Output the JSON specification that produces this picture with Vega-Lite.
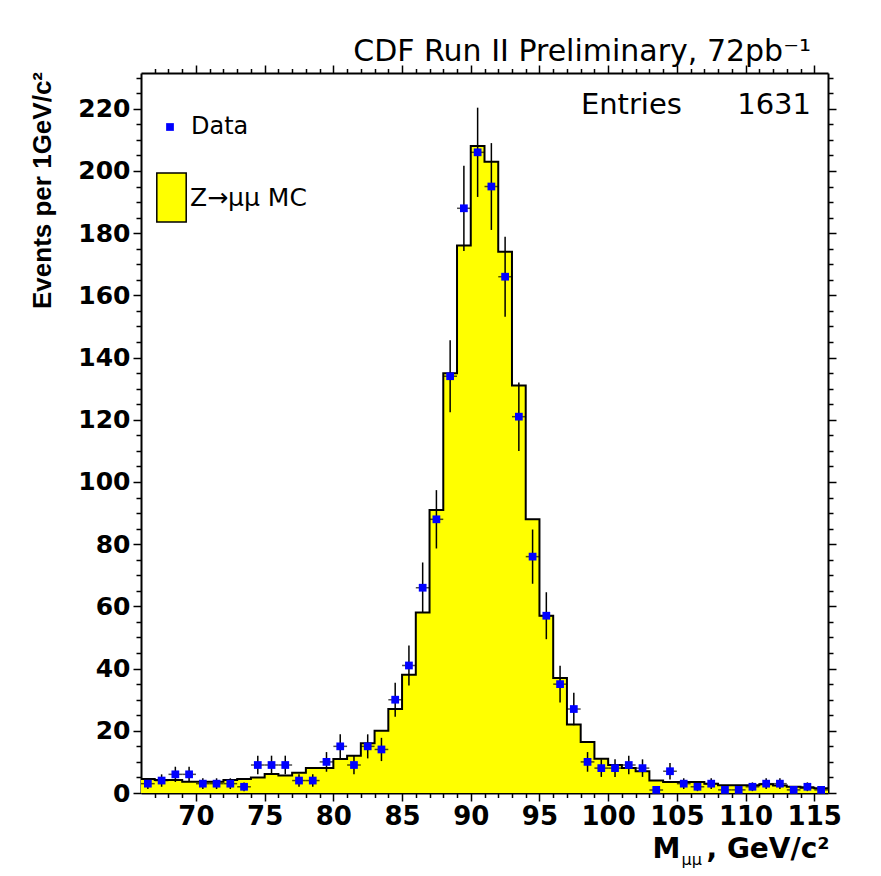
{
  "$schema": "https://vega.github.io/schema/vega-lite/v6.json",
  "width": 687,
  "height": 720,
  "autosize": {"type": "none"},
  "padding": {"left": 141, "top": 73, "right": 53, "bottom": 83},
  "background": "white",
  "config": {
    "view": {"stroke": null},
    "axis": {"grid": false, "tickColor": "black", "domainColor": "black", "labelColor": "black", "titleColor": "black", "zindex": 1}
  },
  "title": {
    "text": "CDF Run II Preliminary, 72pb\u207b\u00b9",
    "subtitle": "Entries\u00a0\u00a0\u00a0\u00a0\u00a0\u00a01631",
    "anchor": "end",
    "frame": "group",
    "font": "DejaVu Sans",
    "fontSize": 30,
    "fontWeight": "normal",
    "color": "black",
    "subtitleFont": "DejaVu Sans",
    "subtitleFontSize": 29,
    "subtitleColor": "black",
    "subtitlePadding": 24,
    "offset": -56,
    "dx": -17
  },
  "datasets": {
    "pts": [
      {"m": 66.5, "n": 3, "lo": 1.27, "hi": 4.73, "series": "Data"},
      {"m": 67.5, "n": 4, "lo": 2, "hi": 6, "series": "Data"},
      {"m": 68.5, "n": 6, "lo": 3.55, "hi": 8.45, "series": "Data"},
      {"m": 69.5, "n": 6, "lo": 3.55, "hi": 8.45, "series": "Data"},
      {"m": 70.5, "n": 3, "lo": 1.27, "hi": 4.73, "series": "Data"},
      {"m": 71.5, "n": 3, "lo": 1.27, "hi": 4.73, "series": "Data"},
      {"m": 72.5, "n": 3, "lo": 1.27, "hi": 4.73, "series": "Data"},
      {"m": 73.5, "n": 2, "lo": 0.59, "hi": 3.41, "series": "Data"},
      {"m": 74.5, "n": 9, "lo": 6, "hi": 12, "series": "Data"},
      {"m": 75.5, "n": 9, "lo": 6, "hi": 12, "series": "Data"},
      {"m": 76.5, "n": 9, "lo": 6, "hi": 12, "series": "Data"},
      {"m": 77.5, "n": 4, "lo": 2, "hi": 6, "series": "Data"},
      {"m": 78.5, "n": 4, "lo": 2, "hi": 6, "series": "Data"},
      {"m": 79.5, "n": 10, "lo": 6.84, "hi": 13.16, "series": "Data"},
      {"m": 80.5, "n": 15, "lo": 11.13, "hi": 18.87, "series": "Data"},
      {"m": 81.5, "n": 9, "lo": 6, "hi": 12, "series": "Data"},
      {"m": 82.5, "n": 15, "lo": 11.13, "hi": 18.87, "series": "Data"},
      {"m": 83.5, "n": 14, "lo": 10.26, "hi": 17.74, "series": "Data"},
      {"m": 84.5, "n": 30, "lo": 24.52, "hi": 35.48, "series": "Data"},
      {"m": 85.5, "n": 41, "lo": 34.6, "hi": 47.4, "series": "Data"},
      {"m": 86.5, "n": 66, "lo": 57.88, "hi": 74.12, "series": "Data"},
      {"m": 87.5, "n": 88, "lo": 78.62, "hi": 97.38, "series": "Data"},
      {"m": 88.5, "n": 134, "lo": 122.42, "hi": 145.58, "series": "Data"},
      {"m": 89.5, "n": 188, "lo": 174.29, "hi": 201.71, "series": "Data"},
      {"m": 90.5, "n": 206, "lo": 191.65, "hi": 220.35, "series": "Data"},
      {"m": 91.5, "n": 195, "lo": 181.04, "hi": 208.96, "series": "Data"},
      {"m": 92.5, "n": 166, "lo": 153.12, "hi": 178.88, "series": "Data"},
      {"m": 93.5, "n": 121, "lo": 110, "hi": 132, "series": "Data"},
      {"m": 94.5, "n": 76, "lo": 67.28, "hi": 84.72, "series": "Data"},
      {"m": 95.5, "n": 57, "lo": 49.45, "hi": 64.55, "series": "Data"},
      {"m": 96.5, "n": 35, "lo": 29.08, "hi": 40.92, "series": "Data"},
      {"m": 97.5, "n": 27, "lo": 21.8, "hi": 32.2, "series": "Data"},
      {"m": 98.5, "n": 10, "lo": 6.84, "hi": 13.16, "series": "Data"},
      {"m": 99.5, "n": 8, "lo": 5.17, "hi": 10.83, "series": "Data"},
      {"m": 100.5, "n": 8, "lo": 5.17, "hi": 10.83, "series": "Data"},
      {"m": 101.5, "n": 9, "lo": 6, "hi": 12, "series": "Data"},
      {"m": 102.5, "n": 8, "lo": 5.17, "hi": 10.83, "series": "Data"},
      {"m": 103.5, "n": 1, "lo": 0, "hi": 2, "series": "Data"},
      {"m": 104.5, "n": 7, "lo": 4.35, "hi": 9.65, "series": "Data"},
      {"m": 105.5, "n": 3, "lo": 1.27, "hi": 4.73, "series": "Data"},
      {"m": 106.5, "n": 2, "lo": 0.59, "hi": 3.41, "series": "Data"},
      {"m": 107.5, "n": 3, "lo": 1.27, "hi": 4.73, "series": "Data"},
      {"m": 108.5, "n": 1, "lo": 0, "hi": 2, "series": "Data"},
      {"m": 109.5, "n": 1, "lo": 0, "hi": 2, "series": "Data"},
      {"m": 110.5, "n": 2, "lo": 0.59, "hi": 3.41, "series": "Data"},
      {"m": 111.5, "n": 3, "lo": 1.27, "hi": 4.73, "series": "Data"},
      {"m": 112.5, "n": 3, "lo": 1.27, "hi": 4.73, "series": "Data"},
      {"m": 113.5, "n": 1, "lo": 0, "hi": 2, "series": "Data"},
      {"m": 114.5, "n": 2, "lo": 0.59, "hi": 3.41, "series": "Data"},
      {"m": 115.5, "n": 1, "lo": 0, "hi": 2, "series": "Data"}
    ],
    "mc": [
      {"edge": 66, "mc": 4.5, "series": "Z\u2192\u03bc\u03bc MC"},
      {"edge": 67, "mc": 4.2, "series": "Z\u2192\u03bc\u03bc MC"},
      {"edge": 68, "mc": 4.2, "series": "Z\u2192\u03bc\u03bc MC"},
      {"edge": 69, "mc": 3.6, "series": "Z\u2192\u03bc\u03bc MC"},
      {"edge": 70, "mc": 3.6, "series": "Z\u2192\u03bc\u03bc MC"},
      {"edge": 71, "mc": 3.6, "series": "Z\u2192\u03bc\u03bc MC"},
      {"edge": 72, "mc": 4.2, "series": "Z\u2192\u03bc\u03bc MC"},
      {"edge": 73, "mc": 4.5, "series": "Z\u2192\u03bc\u03bc MC"},
      {"edge": 74, "mc": 5.0, "series": "Z\u2192\u03bc\u03bc MC"},
      {"edge": 75, "mc": 6.1, "series": "Z\u2192\u03bc\u03bc MC"},
      {"edge": 76, "mc": 5.6, "series": "Z\u2192\u03bc\u03bc MC"},
      {"edge": 77, "mc": 6.5, "series": "Z\u2192\u03bc\u03bc MC"},
      {"edge": 78, "mc": 8, "series": "Z\u2192\u03bc\u03bc MC"},
      {"edge": 79, "mc": 8, "series": "Z\u2192\u03bc\u03bc MC"},
      {"edge": 80, "mc": 10.9, "series": "Z\u2192\u03bc\u03bc MC"},
      {"edge": 81, "mc": 12, "series": "Z\u2192\u03bc\u03bc MC"},
      {"edge": 82, "mc": 16, "series": "Z\u2192\u03bc\u03bc MC"},
      {"edge": 83, "mc": 20, "series": "Z\u2192\u03bc\u03bc MC"},
      {"edge": 84, "mc": 27, "series": "Z\u2192\u03bc\u03bc MC"},
      {"edge": 85, "mc": 38, "series": "Z\u2192\u03bc\u03bc MC"},
      {"edge": 86, "mc": 58, "series": "Z\u2192\u03bc\u03bc MC"},
      {"edge": 87, "mc": 91, "series": "Z\u2192\u03bc\u03bc MC"},
      {"edge": 88, "mc": 135, "series": "Z\u2192\u03bc\u03bc MC"},
      {"edge": 89, "mc": 176, "series": "Z\u2192\u03bc\u03bc MC"},
      {"edge": 90, "mc": 208, "series": "Z\u2192\u03bc\u03bc MC"},
      {"edge": 91, "mc": 203, "series": "Z\u2192\u03bc\u03bc MC"},
      {"edge": 92, "mc": 174, "series": "Z\u2192\u03bc\u03bc MC"},
      {"edge": 93, "mc": 131, "series": "Z\u2192\u03bc\u03bc MC"},
      {"edge": 94, "mc": 88, "series": "Z\u2192\u03bc\u03bc MC"},
      {"edge": 95, "mc": 57, "series": "Z\u2192\u03bc\u03bc MC"},
      {"edge": 96, "mc": 37, "series": "Z\u2192\u03bc\u03bc MC"},
      {"edge": 97, "mc": 22, "series": "Z\u2192\u03bc\u03bc MC"},
      {"edge": 98, "mc": 16.4, "series": "Z\u2192\u03bc\u03bc MC"},
      {"edge": 99, "mc": 11, "series": "Z\u2192\u03bc\u03bc MC"},
      {"edge": 100, "mc": 9, "series": "Z\u2192\u03bc\u03bc MC"},
      {"edge": 101, "mc": 8, "series": "Z\u2192\u03bc\u03bc MC"},
      {"edge": 102, "mc": 7, "series": "Z\u2192\u03bc\u03bc MC"},
      {"edge": 103, "mc": 4, "series": "Z\u2192\u03bc\u03bc MC"},
      {"edge": 104, "mc": 3.5, "series": "Z\u2192\u03bc\u03bc MC"},
      {"edge": 105, "mc": 3.5, "series": "Z\u2192\u03bc\u03bc MC"},
      {"edge": 106, "mc": 3.5, "series": "Z\u2192\u03bc\u03bc MC"},
      {"edge": 107, "mc": 3.0, "series": "Z\u2192\u03bc\u03bc MC"},
      {"edge": 108, "mc": 2.5, "series": "Z\u2192\u03bc\u03bc MC"},
      {"edge": 109, "mc": 2.5, "series": "Z\u2192\u03bc\u03bc MC"},
      {"edge": 110, "mc": 2.5, "series": "Z\u2192\u03bc\u03bc MC"},
      {"edge": 111, "mc": 2.8, "series": "Z\u2192\u03bc\u03bc MC"},
      {"edge": 112, "mc": 2.4, "series": "Z\u2192\u03bc\u03bc MC"},
      {"edge": 113, "mc": 2.0, "series": "Z\u2192\u03bc\u03bc MC"},
      {"edge": 114, "mc": 1.7, "series": "Z\u2192\u03bc\u03bc MC"},
      {"edge": 115, "mc": 1.5, "series": "Z\u2192\u03bc\u03bc MC"},
      {"edge": 116, "mc": 1.5, "series": "Z\u2192\u03bc\u03bc MC"}
    ]
  },
  "resolve": {"axis": {"x": "independent", "y": "independent"}},
  "layer": [
    {
      "data": {"name": "mc"},
      "mark": {"type": "area", "interpolate": "step-after"},
      "encoding": {
        "x": {"field": "edge", "type": "quantitative",
          "scale": {"domain": [66, 116], "nice": false, "zero": false},
          "axis": {"orient": "bottom", "values": [70, 75, 80, 85, 90, 95, 100, 105, 110, 115],
            "tickSize": 8, "tickWidth": 1.5, "domain": true, "domainWidth": 2,
            "labelFont": "DejaVu Sans", "labelFontWeight": "bold", "labelFontSize": 26, "labelPadding": 2, "labelFlush": false,
            "title": "M", "titleX": 511, "titleY": 64, "titleAlign": "left", "titleBaseline": "alphabetic",
            "titleFont": "DejaVu Sans", "titleFontWeight": "bold", "titleFontSize": 28}},
        "y": {"field": "mc", "type": "quantitative",
          "scale": {"domain": [0, 231.5], "nice": false, "zero": true},
          "axis": {"orient": "left", "values": [0, 20, 40, 60, 80, 100, 120, 140, 160, 180, 200, 220],
            "tickSize": 8, "tickWidth": 1.5, "domain": true, "domainWidth": 2,
            "labelFont": "DejaVu Sans", "labelFontWeight": "bold", "labelFontSize": 25, "labelPadding": 3, "labelFlush": false,
            "title": "Events per 1GeV/c\u00b2", "titleX": -99, "titleY": 117, "titleAngle": -90, "titleAlign": "center", "titleBaseline": "middle",
            "titleFont": "Liberation Sans", "titleFontWeight": "bold", "titleFontSize": 26}},
        "fill": {"field": "series", "type": "nominal",
          "scale": {"range": ["#ffff00"]},
          "legend": {"orient": "none", "legendX": 5, "legendY": 99, "title": null, "padding": 0,
            "symbolType": "M-0.6,-1H0.6V1H-0.6Z", "symbolSize": 2401, "symbolStrokeColor": "black", "symbolStrokeWidth": 1.5, "symbolFillColor": "#ffff00",
            "labelFont": "DejaVu Sans", "labelFontSize": 25, "labelColor": "black", "labelOffset": -7, "labelLimit": 0,
            "encode": {"symbols": {"update": {"stroke": {"value": "black"}, "strokeWidth": {"value": 1.5}}}}}}
      }
    },
    {
      "data": {"name": "mc"},
      "mark": {"type": "line", "interpolate": "step-after", "color": "black", "strokeWidth": 2},
      "encoding": {
        "x": {"field": "edge", "type": "quantitative",
          "scale": {"domain": [66, 116], "nice": false, "zero": false},
          "axis": {"orient": "bottom", "values": [67, 68, 69, 71, 72, 73, 74, 76, 77, 78, 79, 81, 82, 83, 84, 86, 87, 88, 89, 91, 92, 93, 94, 96, 97, 98, 99, 101, 102, 103, 104, 106, 107, 108, 109, 111, 112, 113, 114],
            "tickSize": 4.5, "tickWidth": 1.5, "domain": false, "labels": false,
            "title": "\u03bc\u03bc", "titleX": 540, "titleY": 71, "titleAlign": "left", "titleBaseline": "alphabetic",
            "titleFont": "DejaVu Sans", "titleFontWeight": "normal", "titleFontSize": 16}},
        "y": {"field": "mc", "type": "quantitative",
          "scale": {"domain": [0, 231.5], "nice": false, "zero": true},
          "axis": {"orient": "left", "values": [5, 10, 15, 25, 30, 35, 45, 50, 55, 65, 70, 75, 85, 90, 95, 105, 110, 115, 125, 130, 135, 145, 150, 155, 165, 170, 175, 185, 190, 195, 205, 210, 215, 225, 230],
            "tickSize": 5, "tickWidth": 1.5, "domain": false, "labels": false, "title": null}}
      }
    },
    {
      "data": {"name": "pts"},
      "mark": {"type": "rule", "color": "black", "strokeWidth": 1.5},
      "encoding": {
        "x": {"field": "m", "type": "quantitative",
          "scale": {"domain": [66, 116], "nice": false, "zero": false},
          "axis": {"orient": "top", "values": [70, 75, 80, 85, 90, 95, 100, 105, 110, 115],
            "tickSize": 8, "tickWidth": 1.5, "domain": true, "domainWidth": 2, "labels": false,
            "title": ", GeV/c\u00b2", "titleX": 565, "titleY": 784, "titleAlign": "left", "titleBaseline": "alphabetic",
            "titleFont": "DejaVu Sans", "titleFontWeight": "bold", "titleFontSize": 28}},
        "y": {"field": "lo", "type": "quantitative",
          "scale": {"domain": [0, 231.5], "nice": false, "zero": true},
          "axis": {"orient": "right", "values": [0, 20, 40, 60, 80, 100, 120, 140, 160, 180, 200, 220],
            "tickSize": 8, "tickWidth": 1.5, "domain": true, "domainWidth": 2, "labels": false, "title": null}},
        "y2": {"field": "hi"}
      }
    },
    {
      "data": {"name": "pts"},
      "mark": {"type": "tick", "orient": "horizontal", "color": "black", "size": 13.7, "thickness": 1.5},
      "encoding": {
        "x": {"field": "m", "type": "quantitative",
          "scale": {"domain": [66, 116], "nice": false, "zero": false},
          "axis": {"orient": "top", "values": [67, 68, 69, 71, 72, 73, 74, 76, 77, 78, 79, 81, 82, 83, 84, 86, 87, 88, 89, 91, 92, 93, 94, 96, 97, 98, 99, 101, 102, 103, 104, 106, 107, 108, 109, 111, 112, 113, 114],
            "tickSize": 4.5, "tickWidth": 1.5, "domain": false, "labels": false, "title": null}},
        "y": {"field": "n", "type": "quantitative",
          "scale": {"domain": [0, 231.5], "nice": false, "zero": true},
          "axis": {"orient": "right", "values": [5, 10, 15, 25, 30, 35, 45, 50, 55, 65, 70, 75, 85, 90, 95, 105, 110, 115, 125, 130, 135, 145, 150, 155, 165, 170, 175, 185, 190, 195, 205, 210, 215, 225, 230],
            "tickSize": 5, "tickWidth": 1.5, "domain": false, "labels": false, "title": null}}
      }
    },
    {
      "data": {"name": "pts"},
      "mark": {"type": "point", "shape": "square", "filled": true, "size": 60, "opacity": 1},
      "encoding": {
        "x": {"field": "m", "type": "quantitative", "scale": {"domain": [66, 116], "nice": false, "zero": false}, "axis": null},
        "y": {"field": "n", "type": "quantitative", "scale": {"domain": [0, 231.5], "nice": false, "zero": true}, "axis": null},
        "color": {"field": "series", "type": "nominal",
          "scale": {"range": ["#0000ff"]},
          "legend": {"orient": "none", "legendX": 17, "legendY": 42, "title": null, "padding": 0,
            "symbolType": "square", "symbolSize": 60, "symbolOpacity": 1,
            "labelFont": "DejaVu Sans", "labelFontSize": 24, "labelColor": "black", "labelOffset": 9, "labelLimit": 0}}
      }
    }
  ]
}
